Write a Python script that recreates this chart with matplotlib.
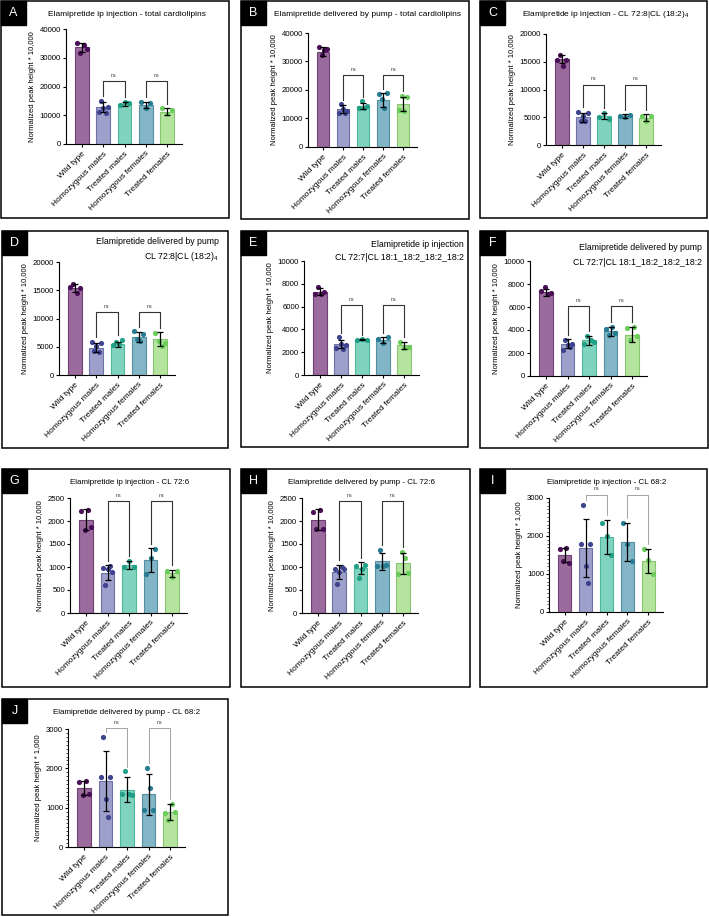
import numpy as np
import matplotlib.pyplot as plt
from matplotlib.patches import Rectangle

plt.rcParams['font.family'] = ['Liberation Sans', 'DejaVu Sans']
plt.rcParams['mathtext.fontset'] = 'custom'
plt.rcParams['mathtext.rm'] = 'Liberation Sans'

W, H = 709, 917

groups = ['Wild type', 'Homozygous males', 'Treated males', 'Homozygous females', 'Treated females']
bar_fill = ['#9c6b9e', '#9da0cb', '#80d4bf', '#82b6c6', '#b5e49e']
bar_edge = ['#6f4073', '#6d71a6', '#4fb59b', '#558fa2', '#86c46e']
dot_color = ['#4a0f57', '#3d438e', '#22a087', '#277c92', '#6acd5b']

# A - ip injection, total cardiolipins
a_mean = [33600, 12800, 13900, 13500, 11300]
a_sd = [1500, 1700, 700, 1100, 1100]
a_pts = [[35100, 31800, 34600, 33200], [11000, 15000, 12600, 10800, 13000],
         [13500, 14600, 14200], [14500, 12600, 14300], [12400, 10600, 11900]]

# B - pump, total cardiolipins
b_mean = [33500, 13200, 14400, 16500, 15100]
b_sd = [1500, 1400, 1200, 2300, 2600]
b_pts = [[35000, 32300, 34000, 34500], [12000, 15000, 13200, 11800, 12800],
         [13600, 16000, 13800, 14500], [18500, 16800, 13800, 18800],
         [13000, 18000, 12800, 17400]]

# C - ip injection, CL 72:8
c_mean = [15500, 5000, 5200, 5200, 4900]
c_sd = [800, 850, 550, 300, 650]
c_pts = [[15400, 16200, 14300, 15400], [6000, 4400, 5300, 4300, 5700],
         [5100, 5800, 4700], [5300, 5100, 5400], [5300, 4300, 5200]]

# D - pump, CL 72:8
d_mean = [15400, 4800, 5400, 6700, 6300]
d_sd = [750, 800, 500, 850, 1250]
d_pts = [[15500, 16100, 14500, 15400], [5900, 4300, 5200, 4100, 5600],
         [5300, 5800, 5400, 6200], [7700, 6400, 6000, 7200], [7400, 6100, 5200, 5600]]

# E - ip injection, CL 72:7
e_mean = [7300, 2700, 3100, 3050, 2600]
e_sd = [300, 350, 50, 250, 300]
e_pts = [[7100, 7700, 7100, 7300], [2400, 3300, 2700, 2300, 2600],
         [3100, 3150, 3100], [3200, 2800, 3300], [2900, 2400, 2500]]

# F - pump, CL 72:7
f_mean = [7300, 2800, 3100, 3900, 3600]
f_sd = [300, 400, 400, 400, 650]
f_pts = [[7400, 7700, 7100, 7200], [2300, 3100, 2700, 2500, 2800],
         [2800, 3500, 3100, 3000], [4100, 3600, 4300, 3700], [4200, 3100, 4300, 3500]]

# G - ip injection, CL 72:6
g_mean = [2030, 880, 1040, 1150, 860]
g_sd = [230, 160, 80, 260, 80]
g_pts = [[2210, 1810, 2250, 1880], [970, 610, 960, 1030, 900],
         [1000, 1140, 1010], [850, 1200, 1400], [920, 780, 920]]

# H - pump, CL 72:6
h_mean = [2030, 890, 970, 1120, 1080]
h_sd = [225, 155, 130, 190, 235]
h_pts = [[2200, 1820, 2250, 1820], [950, 620, 900, 1010, 960],
         [1020, 760, 960, 1050], [1020, 1380, 1030, 1050], [850, 1330, 1200, 860]]

# I - ip injection, CL 68:2
i_mean = [1500, 1680, 1970, 1830, 1340]
i_sd = [180, 770, 450, 500, 320]
i_pts = [[1650, 1350, 1680, 1300], [1780, 2820, 1220, 760, 1780],
         [2330, 2000, 1500], [2350, 1780, 1350], [1650, 1370, 1000]]

# J - pump, CL 68:2
j_mean = [1500, 1680, 1460, 1340, 890]
j_sd = [180, 770, 310, 520, 200]
j_pts = [[1650, 1330, 1670, 1350], [1780, 2800, 1230, 770, 1790],
         [1340, 1920, 1350, 1320], [940, 2020, 1500, 930], [870, 680, 1100, 880]]

letters = ['A', 'B', 'C', 'D', 'E', 'F', 'G', 'H', 'I', 'J']
means = [a_mean, b_mean, c_mean, d_mean, e_mean, f_mean, g_mean, h_mean, i_mean, j_mean]
sds = [a_sd, b_sd, c_sd, d_sd, e_sd, f_sd, g_sd, h_sd, i_sd, j_sd]
points = [a_pts, b_pts, c_pts, d_pts, e_pts, f_pts, g_pts, h_pts, i_pts, j_pts]
titles = ['Elamipretide ip injection - total cardiolipins',
          'Elamipretide delivered by pump - total cardiolipins',
          'Elamipretide ip injection - CL 72:8|CL (18:2)$_4$',
          'Elamipretide delivered by pump\nCL 72:8|CL (18:2)$_4$',
          'Elamipretide ip injection\nCL 72:7|CL 18:1_18:2_18:2_18:2',
          'Elamipretide delivered by pump\nCL 72:7|CL 18:1_18:2_18:2_18:2',
          'Elamipretide ip injection - CL 72:6',
          'Elamipretide delivered by pump - CL 72:6',
          'Elamipretide ip injection - CL 68:2',
          'Elamipretide delivered by pump - CL 68:2']
y_max = [40000, 40000, 20000, 20000, 10000, 10000, 2500, 2500, 3000, 3000]
y_step = [10000, 10000, 5000, 5000, 2000, 2000, 500, 500, 1000, 1000]
y_labels = ['Normalized peak height * 10,000'] * 8 + ['Normalized peak height * 1,000'] * 2
bracket_y = [21800, 25300, 10900, 11200, 6100, 6100, 2430, 2430, 3090, 3020]

# layout in pixels: panel box (x0, y0, x1, y1), axes box (x0, y0, x1, y1), title anchor
panel_box = [(1, 1, 229, 218), (241, 1, 469, 219), (480, 1, 707, 218),
             (2, 231, 228, 448), (241, 231, 468, 447), (480, 231, 708, 448),
             (2, 469, 230, 687), (241, 469, 470, 687), (480, 469, 707, 687),
             (2, 699, 228, 915)]
axes_box = [(66, 29, 182, 144), (308, 33, 417, 147), (546, 34, 661, 145),
            (59, 262, 175, 375), (304, 261, 419, 375), (530, 261, 647, 376),
            (70, 498, 187, 613), (302, 498, 418, 613), (549, 498, 663, 612),
            (68, 729, 185, 847)]
title_pos = [(127, 14, 'center'), (367, 14, 'center'), (606, 14, 'center'),
             (219, 250, 'right'), (464, 251, 'right'), (702, 255, 'right'),
             (130, 483, 'center'), (362, 483, 'center'), (607, 482, 'center'),
             (127, 713, 'center')]

fig = plt.figure(figsize=(W / 100, H / 100), dpi=100)


def fx(px):
    return px / W


def fy(py):
    return 1 - py / H


for k in range(10):
    # panel frame and letter box
    x0, y0, x1, y1 = panel_box[k]
    fig.patches.append(Rectangle((fx(x0), fy(y1)), fx(x1 - x0), (y1 - y0) / H,
                                 transform=fig.transFigure, fill=False,
                                 edgecolor='black', linewidth=1.1))
    fig.patches.append(Rectangle((fx(x0), fy(y0 + 24)), fx(25), 24 / H,
                                 transform=fig.transFigure, facecolor='black',
                                 edgecolor='black'))
    fig.text(fx(x0 + 12.5), fy(y0 + 12), letters[k], color='white',
             fontsize=9, ha='center', va='center')

    tx, ty, ha = title_pos[k]
    if ha == 'right':
        ls = 1.75 if k == 5 else 1.45
        fig.text(fx(tx), fy(ty), titles[k], fontsize=6.3, ha='right',
                 va='center', linespacing=ls)
    else:
        fs = 6.0 if k < 3 else 5.8
        fig.text(fx(tx), fy(ty), titles[k], fontsize=fs, ha='center', va='center')

    ax0, ay0, ax1, ay1 = axes_box[k]
    ax = fig.add_axes([fx(ax0), fy(ay1), fx(ax1 - ax0), (ay1 - ay0) / H])
    xs = np.arange(len(groups))
    ym = y_max[k]

    ax.bar(xs, means[k], width=0.64, color=bar_fill, edgecolor=bar_edge,
           linewidth=0.8, zorder=1)
    for i, pts in enumerate(points[k]):
        off = np.linspace(-0.22, 0.22, len(pts))
        ax.scatter(xs[i] + off, pts, s=14, color=dot_color[i], zorder=2,
                   linewidths=0, clip_on=False)
    ax.errorbar(xs, means[k], yerr=sds[k], fmt='none', ecolor='black',
                elinewidth=0.9, capsize=2.3, capthick=0.9, zorder=3)

    # significance brackets
    light = k >= 8
    bcol = '#808080' if light else '#333333'
    blw = 0.5 if light else 0.8
    by = bracket_y[k]
    for g1, g2 in [(1, 2), (3, 4)]:
        legs = []
        for g in (g1, g2):
            top = max(means[k][g] + sds[k][g], max(points[k][g]))
            legs.append(top + 0.04 * ym)
        ax.plot([g1, g1, g2, g2], [legs[0], by, by, legs[1]], color=bcol,
                lw=blw, clip_on=False, zorder=4)
        ax.text((g1 + g2) / 2, by + 0.05 * ym, 'ns', fontsize=3.8,
                ha='center', va='center', color='#333333')

    ax.set_xlim(-0.75, 4.7)
    ax.set_ylim(0, ym)
    ax.set_yticks(np.arange(0, ym + 1, y_step[k]))
    if light:
        ax.set_yticks(np.arange(0, ym + 1, 100), minor=True)
        ax.tick_params(axis='y', which='minor', length=1.5, width=0.5)
    ax.set_xticks(xs)
    ax.set_xticklabels(groups, rotation=45, ha='right', rotation_mode='anchor',
                       fontsize=6)
    ax.tick_params(axis='y', labelsize=5.6, length=2.5, width=0.8, pad=1)
    ax.tick_params(axis='x', length=2.5, width=0.8, pad=2)
    ax.set_ylabel(y_labels[k], fontsize=5.5, labelpad=3)
    for s in ['top', 'right']:
        ax.spines[s].set_visible(False)
    for s in ['left', 'bottom']:
        ax.spines[s].set_linewidth(0.8)

fig.savefig('out.png', dpi=100)
